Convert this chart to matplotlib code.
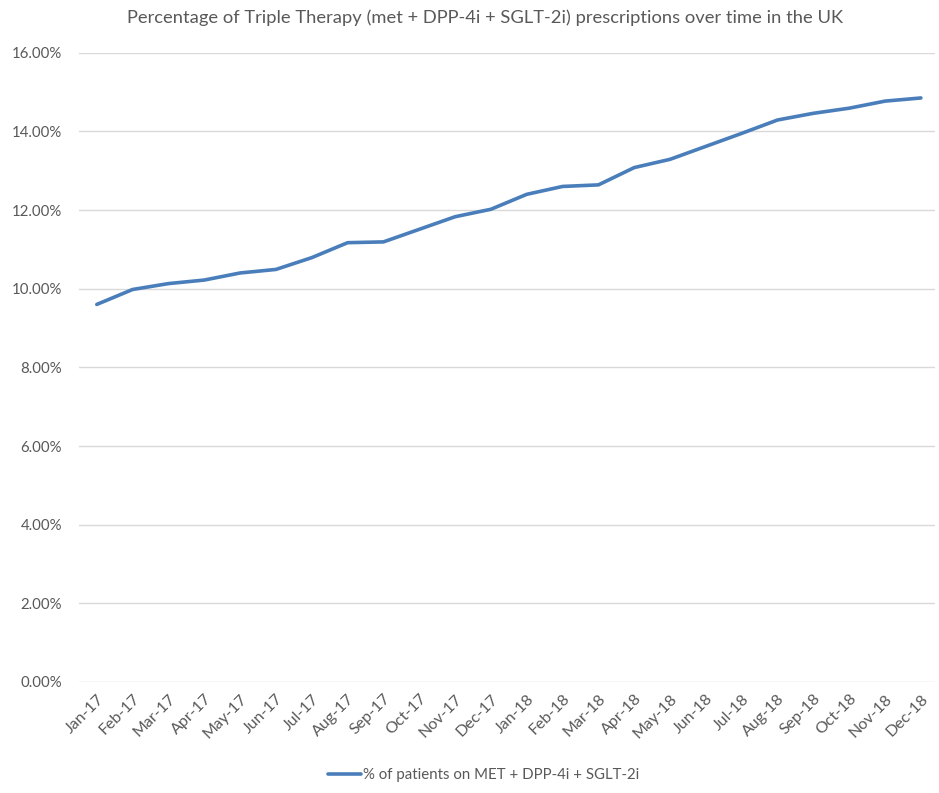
import matplotlib.pyplot as plt
from matplotlib.ticker import FuncFormatter, MultipleLocator

plt.rcParams["font.family"] = ["Lato", "DejaVu Sans"]

# ---- Data ----
months = [
    "Jan-17", "Feb-17", "Mar-17", "Apr-17", "May-17", "Jun-17",
    "Jul-17", "Aug-17", "Sep-17", "Oct-17", "Nov-17", "Dec-17",
    "Jan-18", "Feb-18", "Mar-18", "Apr-18", "May-18", "Jun-18",
    "Jul-18", "Aug-18", "Sep-18", "Oct-18", "Nov-18", "Dec-18",
]
pct_triple = [
    9.60, 9.98, 10.13, 10.22, 10.40, 10.49,
    10.79, 11.17, 11.19, 11.51, 11.83, 12.02,
    12.40, 12.60, 12.64, 13.08, 13.29, 13.62,
    13.95, 14.29, 14.46, 14.59, 14.77, 14.85,
]
pct_triple = [v / 100 for v in pct_triple]

grey = "#595959"

fig = plt.figure(figsize=(9.39, 7.93), dpi=100)
ax = fig.add_axes([0.084, 0.140, 0.912, 0.7935])

ax.plot(range(len(months)), pct_triple, color="#4A7EBB", linewidth=2.6,
        solid_capstyle="round", label="% of patients on MET + DPP-4i + SGLT-2i")

ax.set_xlim(-0.5, 23.4)
ax.set_ylim(0, 0.16)
ax.yaxis.set_major_locator(MultipleLocator(0.02))
ax.yaxis.set_major_formatter(FuncFormatter(lambda v, _: f"{v * 100:.2f}%"))
ax.grid(axis="y", color="#D9D9D9", linewidth=1.0)
ax.set_axisbelow(True)

ax.set_xticks(range(len(months)))
ax.set_xticklabels(months, rotation=45, ha="right", rotation_mode="anchor")

for s in ax.spines.values():
    s.set_visible(False)
ax.tick_params(axis="both", length=0, colors=grey)
ax.tick_params(axis="y", pad=12, labelsize=10.8)
ax.tick_params(axis="x", pad=7, labelsize=11.5)

fig.text(0.517, 0.978, "Percentage of Triple Therapy (met + DPP-4i + SGLT-2i) prescriptions over time in the UK",
         ha="center", va="center", fontsize=13.2, color=grey)

fig.legend(loc="center", bbox_to_anchor=(0.515, 0.023), frameon=False,
           fontsize=10.8, labelcolor=grey, handlelength=2.2, handletextpad=0.1)

fig.savefig("out.png", dpi=100, facecolor="white")
